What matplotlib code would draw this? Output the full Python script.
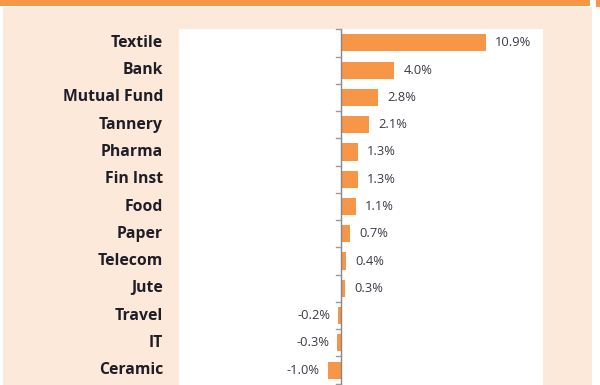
import matplotlib
matplotlib.use("Agg")
import matplotlib.pyplot as plt
from matplotlib.patches import Rectangle

categories = ["Textile", "Bank", "Mutual Fund", "Tannery", "Pharma", "Fin Inst", "Food",
              "Paper", "Telecom", "Jute", "Travel", "IT", "Ceramic"]
values = [10.9, 4.0, 2.8, 2.1, 1.3, 1.3, 1.1, 0.7, 0.4, 0.3, -0.2, -0.3, -1.0]
value_labels = ["10.9%", "4.0%", "2.8%", "2.1%", "1.3%", "1.3%", "1.1%", "0.7%", "0.4%",
                "0.3%", "-0.2%", "-0.3%", "-1.0%"]

ORANGE = "#F79646"
PEACH = "#FDE9D9"
W, H = 600, 385

fig = plt.figure(figsize=(W / 100, H / 100), dpi=100)
fig.patch.set_facecolor("white")

def rect(x0, y0, x1, y1, color):
    fig.patches.append(Rectangle((x0 / W, 1 - y1 / H), (x1 - x0) / W, (y1 - y0) / H,
                                 transform=fig.transFigure, facecolor=color,
                                 edgecolor="none", zorder=-10))

rect(0, 0, 590, 6, ORANGE)
rect(596, 0, 600, 7, ORANGE)
rect(3, 7, 592, 385, PEACH)

ax_left, ax_right = 179, 543
ax_top, ax_bot = 29, 390
ax = fig.add_axes([ax_left / W, 1 - ax_bot / H, (ax_right - ax_left) / W, (ax_bot - ax_top) / H])
ax.set_zorder(5)
ax.set_facecolor("white")

y = list(range(len(categories)))
ax.barh(y, values, height=0.63, color=ORANGE, zorder=2)
ax.set_xlim(-12.2, 15.2)
ax.set_ylim(12.73, -0.51)

for s in ax.spines.values():
    s.set_visible(False)
ax.axvline(0, color="#868686", lw=1.0, zorder=3)
ax.set_xticks([])
ax.set_yticks([])
# tick marks at category boundaries
for b in [i - 0.5 for i in range(len(categories) + 1)]:
    ax.plot([-0.35, 0], [b, b], color="#9A9A9A", lw=1.0, zorder=3, clip_on=False)

for i, (v, lab) in enumerate(zip(values, value_labels)):
    if v >= 0:
        ax.annotate(lab, (v, i), xytext=(9, 0), textcoords="offset pixels",
                    ha="left", va="center", fontsize=9.3, color="#3A3A48",
                    family="Open Sans")
    else:
        ax.annotate(lab, (v, i), xytext=(-8, 0), textcoords="offset pixels",
                    ha="right", va="center", fontsize=9.3, color="#3A3A48",
                    family="Open Sans")

for i, c in enumerate(categories):
    ax.annotate(c, (0, i), xycoords=("figure fraction", "data"),
                xytext=(163, 0), textcoords="offset pixels",
                ha="right", va="center", fontsize=11.3, fontweight="bold",
                color="#1E1E28", family="Open Sans", annotation_clip=False)

fig.savefig("out.png", dpi=100, facecolor=fig.get_facecolor())
